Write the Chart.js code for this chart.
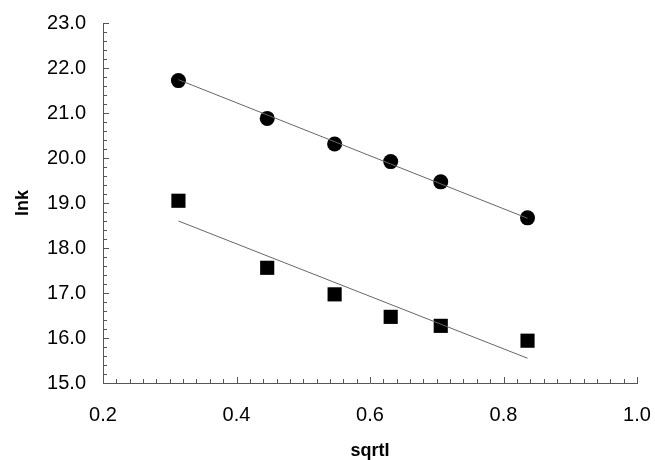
<!DOCTYPE html>
<html>
<head>
<meta charset="utf-8">
<script src="https://cdn.jsdelivr.net/npm/chart.js@4"></script>
<style>
  html, body { margin: 0; padding: 0; background: #fff; }
  canvas { display: block; }
</style>
</head>
<body>
<canvas id="lnkChart" width="655" height="460"></canvas>
<script>
// 数据 (读自图片)
const sqrtI = [0.313, 0.446, 0.547, 0.631, 0.706, 0.836];
const lnkCircle = [21.72, 20.88, 20.31, 19.92, 19.47, 18.67];
const lnkSquare = [19.05, 17.56, 16.97, 16.47, 16.27, 15.94];

// 拟合直线端点
const fitX = [0.313, 0.836];
const fitCircle = [21.74, 18.66];
const fitSquare = [18.60, 15.55];

const xTicks = [0.2, 0.4, 0.6, 0.8, 1.0];
const yTicks = [15, 16, 17, 18, 19, 20, 21, 22, 23];

const toPoints = (xs, ys) => xs.map((x, i) => ({ x: x, y: ys[i] }));

// 向内的小刻度
const innerTicks = {
    id: 'innerTicks',
    afterDraw(chart) {
        const { ctx, scales: { x, y } } = chart;
        ctx.save();
        ctx.strokeStyle = '#555';
        ctx.lineWidth = 1;
        ctx.beginPath();
        for (let i = 0; i <= 40; i++) {
            const v = 0.2 + i * 0.02;
            const px = Math.round(x.getPixelForValue(v)) + 0.5;
            const len = i % 10 === 0 ? 6 : 4;
            ctx.moveTo(px, y.bottom);
            ctx.lineTo(px, y.bottom - len);
        }
        for (let i = 0; i <= 40; i++) {
            const v = 15 + i * 0.2;
            const py = Math.round(y.getPixelForValue(v)) + 0.5;
            const len = i % 5 === 0 ? 6 : 4;
            ctx.moveTo(x.left, py);
            ctx.lineTo(x.left + len, py);
        }
        ctx.stroke();
        ctx.restore();
    }
};

const tickFont = { family: 'Liberation Sans, Arial, sans-serif', size: 20 };
const titleFont = { family: 'Liberation Sans, Arial, sans-serif', size: 18, weight: 'bold' };

new Chart(document.getElementById('lnkChart'), {
    type: 'scatter',
    data: {
        datasets: [
            {
                label: 'fit1',
                data: toPoints(fitX, fitCircle),
                showLine: true,
                borderColor: '#666',
                borderWidth: 1,
                pointRadius: 0
            },
            {
                label: 'fit2',
                data: toPoints(fitX, fitSquare),
                showLine: true,
                borderColor: '#666',
                borderWidth: 1,
                pointRadius: 0
            },
            {
                label: 'circle',
                data: toPoints(sqrtI, lnkCircle),
                pointStyle: 'circle',
                pointRadius: 7.5,
                backgroundColor: '#000',
                borderColor: '#000',
                borderWidth: 0
            },
            {
                label: 'square',
                data: toPoints(sqrtI, lnkSquare),
                pointStyle: 'rect',
                pointRadius: 10,
                backgroundColor: '#000',
                borderColor: '#000',
                borderWidth: 0
            }
        ]
    },
    options: {
        responsive: false,
        animation: false,
        layout: { padding: { left: 0, right: 18, top: 23, bottom: 0 } },
        plugins: {
            legend: { display: false },
            tooltip: { enabled: false }
        },
        scales: {
            x: {
                type: 'linear',
                min: 0.2,
                max: 1.0,
                afterBuildTicks: (scale) => { scale.ticks = xTicks.map(v => ({ value: v })); },
                afterFit: (scale) => {
                    scale.height = 77;
                    scale.paddingLeft = 0;
                    scale.paddingRight = 0;
                },
                grid: { display: false, drawTicks: false },
                border: { display: true, color: '#555', width: 1 },
                ticks: {
                    color: '#000',
                    font: tickFont,
                    padding: 20,
                    maxRotation: 0,
                    callback: (v) => Number(v).toFixed(1)
                },
                title: {
                    display: true,
                    text: 'sqrtI',
                    color: '#000',
                    font: titleFont,
                    padding: { top: 0, bottom: -2 }
                }
            },
            y: {
                type: 'linear',
                min: 15,
                max: 23,
                afterBuildTicks: (scale) => { scale.ticks = yTicks.map(v => ({ value: v })); },
                afterFit: (scale) => {
                    scale.width = 103;
                    scale.paddingTop = 0;
                    scale.paddingBottom = 0;
                },
                grid: { display: false, drawTicks: false },
                border: { display: true, color: '#555', width: 1 },
                ticks: {
                    color: '#000',
                    font: tickFont,
                    padding: 17,
                    callback: (v) => Number(v).toFixed(1)
                },
                title: {
                    display: true,
                    text: 'lnk',
                    color: '#000',
                    font: titleFont,
                    padding: { top: 12, bottom: 0 }
                }
            }
        }
    },
    plugins: [innerTicks]
});
</script>
</body>
</html>
